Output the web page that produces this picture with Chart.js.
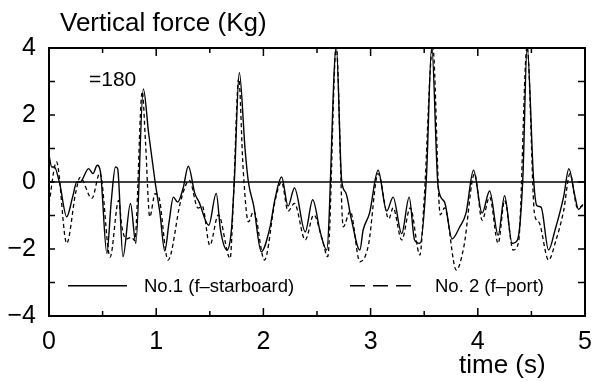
<!DOCTYPE html>
<html>
<head>
<meta charset="utf-8">
<script src="https://cdn.jsdelivr.net/npm/chart.js@4.4.1/dist/chart.umd.min.js"></script>
<style>
  html, body { margin: 0; padding: 0; background: #fff; }
  #wrap { width: 604px; height: 382px; }
</style>
</head>
<body>
<div id="wrap"><canvas id="chart1" width="604" height="382"></canvas></div>
<script>
// Serie 1 (linea continua)
const TIME_SOLID = [0.00, 0.025, 0.05, 0.10, 0.165, 0.22, 0.26, 0.29, 0.37, 0.41, 0.45, 0.48, 0.54, 0.58, 0.62, 0.64, 0.69, 0.76, 0.81, 0.88, 0.93, 0.99, 1.035, 1.08, 1.12, 1.16, 1.20, 1.25, 1.30, 1.36, 1.40, 1.49, 1.56, 1.60, 1.66, 1.70, 1.73, 1.775, 1.83, 1.86, 1.91, 1.98, 2.06, 2.11, 2.17, 2.23, 2.29, 2.39, 2.46, 2.53, 2.59, 2.68, 2.73, 2.77, 2.82, 2.90, 2.93, 2.99, 3.07, 3.15, 3.21, 3.29, 3.36, 3.41, 3.46, 3.52, 3.57, 3.63, 3.69, 3.76, 3.83, 3.89, 3.96, 4.04, 4.11, 4.19, 4.25, 4.32, 4.37, 4.42, 4.46, 4.52, 4.55, 4.59, 4.66, 4.72, 4.80, 4.85, 4.90, 4.94, 4.98];
const FORCE_SOLID = [0.80, 0.45, 0.45, -0.05, -1.04, -0.45, 0.0, 0.0, 0.40, 0.25, 0.50, 0.30, -2.13, -0.6, 0.45, 0.40, -2.23, -0.64, -1.83, 2.78, 1.44, 0.0, -0.93, -2.06, -1.2, -0.45, -0.6, -0.2, 0.47, -0.34, -0.6, -1.29, -0.34, -1.44, -2.03, -1.49, 0.1, 3.27, 0.94, 0.0, -0.72, -2.08, -1.37, -0.48, 0.15, -0.72, -0.18, -1.49, -0.53, -1.49, -2.03, 4.05, 0.05, -0.33, -1.1, -2.03, -1.44, -0.93, 0.35, -0.87, -0.45, -1.54, -0.45, -1.73, -1.83, 0.1, 4.05, -0.15, -0.6, -1.7, -1.35, -0.93, 0.35, -0.93, -0.27, -1.59, -0.41, -1.83, -1.73, 0.1, 4.05, 0.1, -0.7, -0.75, -2.03, -1.44, -0.45, 0.4, -0.33, -0.82, -0.67];

// Serie 2 (linea discontinua)
const TIME_DASHED = [0.00, 0.07, 0.165, 0.25, 0.29, 0.40, 0.475, 0.57, 0.65, 0.68, 0.72, 0.77, 0.80, 0.87, 0.90, 0.94, 0.99, 1.02, 1.11, 1.23, 1.31, 1.39, 1.43, 1.50, 1.58, 1.69, 1.72, 1.77, 1.81, 1.86, 1.91, 2.01, 2.11, 2.17, 2.23, 2.29, 2.39, 2.47, 2.55, 2.60, 2.68, 2.745, 2.81, 2.90, 2.98, 3.07, 3.17, 3.21, 3.29, 3.37, 3.46, 3.50, 3.58, 3.65, 3.69, 3.80, 3.87, 3.97, 4.04, 4.11, 4.19, 4.25, 4.33, 4.38, 4.46, 4.53, 4.57, 4.66, 4.73, 4.80, 4.86, 4.93, 4.98];
const FORCE_DASHED = [-0.64, 0.6, -1.83, -0.3, 0.14, -0.49, 0.27, -2.24, -0.55, -1.34, -1.7, -1.65, -1.75, 2.7, 1.2, -1.04, -0.35, -0.4, -2.33, -0.55, 0.05, -0.78, -0.72, -1.89, -0.98, -2.28, -0.5, 3.1, 0.45, -1.19, -0.87, -2.33, -0.55, 0.0, -0.87, -0.64, -1.73, -0.98, -1.73, -2.23, 4.05, -1.34, -0.87, -2.38, -1.88, 0.25, -1.1, -0.77, -1.73, -0.77, -2.18, -0.5, 4.05, -0.98, -0.77, -2.63, -1.93, 0.25, -1.14, -0.45, -1.83, -0.55, -2.03, -1.8, 4.05, -0.98, -1.2, -2.33, -1.73, -0.87, 0.25, -0.78, -0.7];

const X_TICKS = [0, 1, 2, 3, 4, 5];
const Y_TICKS = [-4, -2, 0, 2, 4];
const SERIES_LABELS = ["No.1 (f\u2013starboard)", "No. 2 (f\u2013port)"];
const TITLE = "Vertical force (Kg)";
const X_TITLE = "time (s)";
const NOTE = "=180";

const FONT = "'Liberation Sans', Arial, sans-serif";

function pares(ts, vs) {
  return ts.map((t, i) => ({ x: t, y: vs[i] }));
}

// Marco, ticks hacia dentro, linea de cero, textos y leyenda
const decoraciones = {
  id: "decoraciones",
  afterDatasetsDraw(chart) {
    const ctx = chart.ctx;
    const a = chart.chartArea;
    const xs = chart.scales.x;
    const ys = chart.scales.y;
    ctx.save();
    ctx.strokeStyle = "#000";

    // linea de cero
    ctx.lineWidth = 1.3;
    const y0 = ys.getPixelForValue(0);
    ctx.beginPath();
    ctx.moveTo(a.left, y0);
    ctx.lineTo(a.right, y0);
    ctx.stroke();

    // ticks x (cada 0.5), arriba y abajo
    ctx.lineWidth = 1.5;
    for (let v = 0.5; v < 5; v += 0.5) {
      const px = xs.getPixelForValue(v);
      const len = Number.isInteger(v) ? 8 : 5;
      ctx.beginPath();
      ctx.moveTo(px, a.bottom);
      ctx.lineTo(px, a.bottom - len);
      ctx.moveTo(px, a.top);
      ctx.lineTo(px, a.top + len);
      ctx.stroke();
    }
    // ticks y (cada 1), izquierda y derecha
    for (let v = -3; v <= 3; v++) {
      const py = ys.getPixelForValue(v);
      ctx.beginPath();
      ctx.moveTo(a.left, py);
      ctx.lineTo(a.left + 6, py);
      ctx.moveTo(a.right, py);
      ctx.lineTo(a.right - 7, py);
      ctx.stroke();
    }

    // marco
    ctx.lineWidth = 2;
    ctx.strokeRect(a.left, a.top, a.right - a.left, a.bottom - a.top);

    // textos
    ctx.fillStyle = "#000";
    ctx.textBaseline = "middle";
    ctx.textAlign = "left";
    ctx.font = "26px " + FONT;
    ctx.fillText(TITLE, 60, 24);
    ctx.fillText(X_TITLE, 459, 366);
    ctx.font = "21px " + FONT;
    ctx.fillText(NOTE, 89, 80);

    // leyenda
    const ds = chart.data.datasets;
    const ly = ys.getPixelForValue(-3.1);
    ctx.font = "18.5px " + FONT;
    ctx.lineWidth = 1.5;
    ctx.setLineDash([]);
    ctx.beginPath();
    ctx.moveTo(68, ly);
    ctx.lineTo(127, ly);
    ctx.stroke();
    ctx.fillText(ds[0].label, 144, ly + 1);
    ctx.setLineDash([15, 8]);
    ctx.beginPath();
    ctx.moveTo(350, ly);
    ctx.lineTo(411, ly);
    ctx.stroke();
    ctx.setLineDash([]);
    ctx.fillText(ds[1].label, 435, ly + 1);
    ctx.restore();
  },
};

const ctx1 = document.getElementById("chart1").getContext("2d");
new Chart(ctx1, {
  type: "line",
  data: {
    datasets: [
      {
        label: SERIES_LABELS[0],
        data: pares(TIME_SOLID, FORCE_SOLID),
        borderColor: "#000",
        borderWidth: 1.4,
        pointRadius: 0,
        cubicInterpolationMode: "monotone",
      },
      {
        label: SERIES_LABELS[1],
        data: pares(TIME_DASHED, FORCE_DASHED),
        borderColor: "#000",
        borderWidth: 1.3,
        borderDash: [4, 3],
        pointRadius: 0,
        cubicInterpolationMode: "monotone",
      },
    ],
  },
  options: {
    responsive: false,
    animation: false,
    layout: { padding: { top: 48, right: 19, left: 0, bottom: 0 } },
    plugins: { legend: { display: false }, tooltip: { enabled: false } },
    scales: {
      x: {
        type: "linear",
        min: 0,
        max: 5,
        afterFit: (s) => { s.height = 66; },
        afterBuildTicks: (s) => { s.ticks = X_TICKS.map((v) => ({ value: v })); },
        grid: { display: false },
        border: { display: false },
        ticks: {
          color: "#000",
          padding: 3,
          font: { family: FONT, size: 25 },
          callback: (v) => String(v),
        },
      },
      y: {
        min: -4,
        max: 4,
        afterFit: (s) => { s.width = 49; },
        afterBuildTicks: (s) => { s.ticks = Y_TICKS.map((v) => ({ value: v })); },
        grid: { display: false },
        border: { display: false },
        ticks: {
          color: "#000",
          padding: 5,
          font: { family: FONT, size: 25 },
          callback: (v) => (v < 0 ? "\u2212" + Math.abs(v) : String(v)),
        },
      },
    },
  },
  plugins: [decoraciones],
});
</script>
</body>
</html>
